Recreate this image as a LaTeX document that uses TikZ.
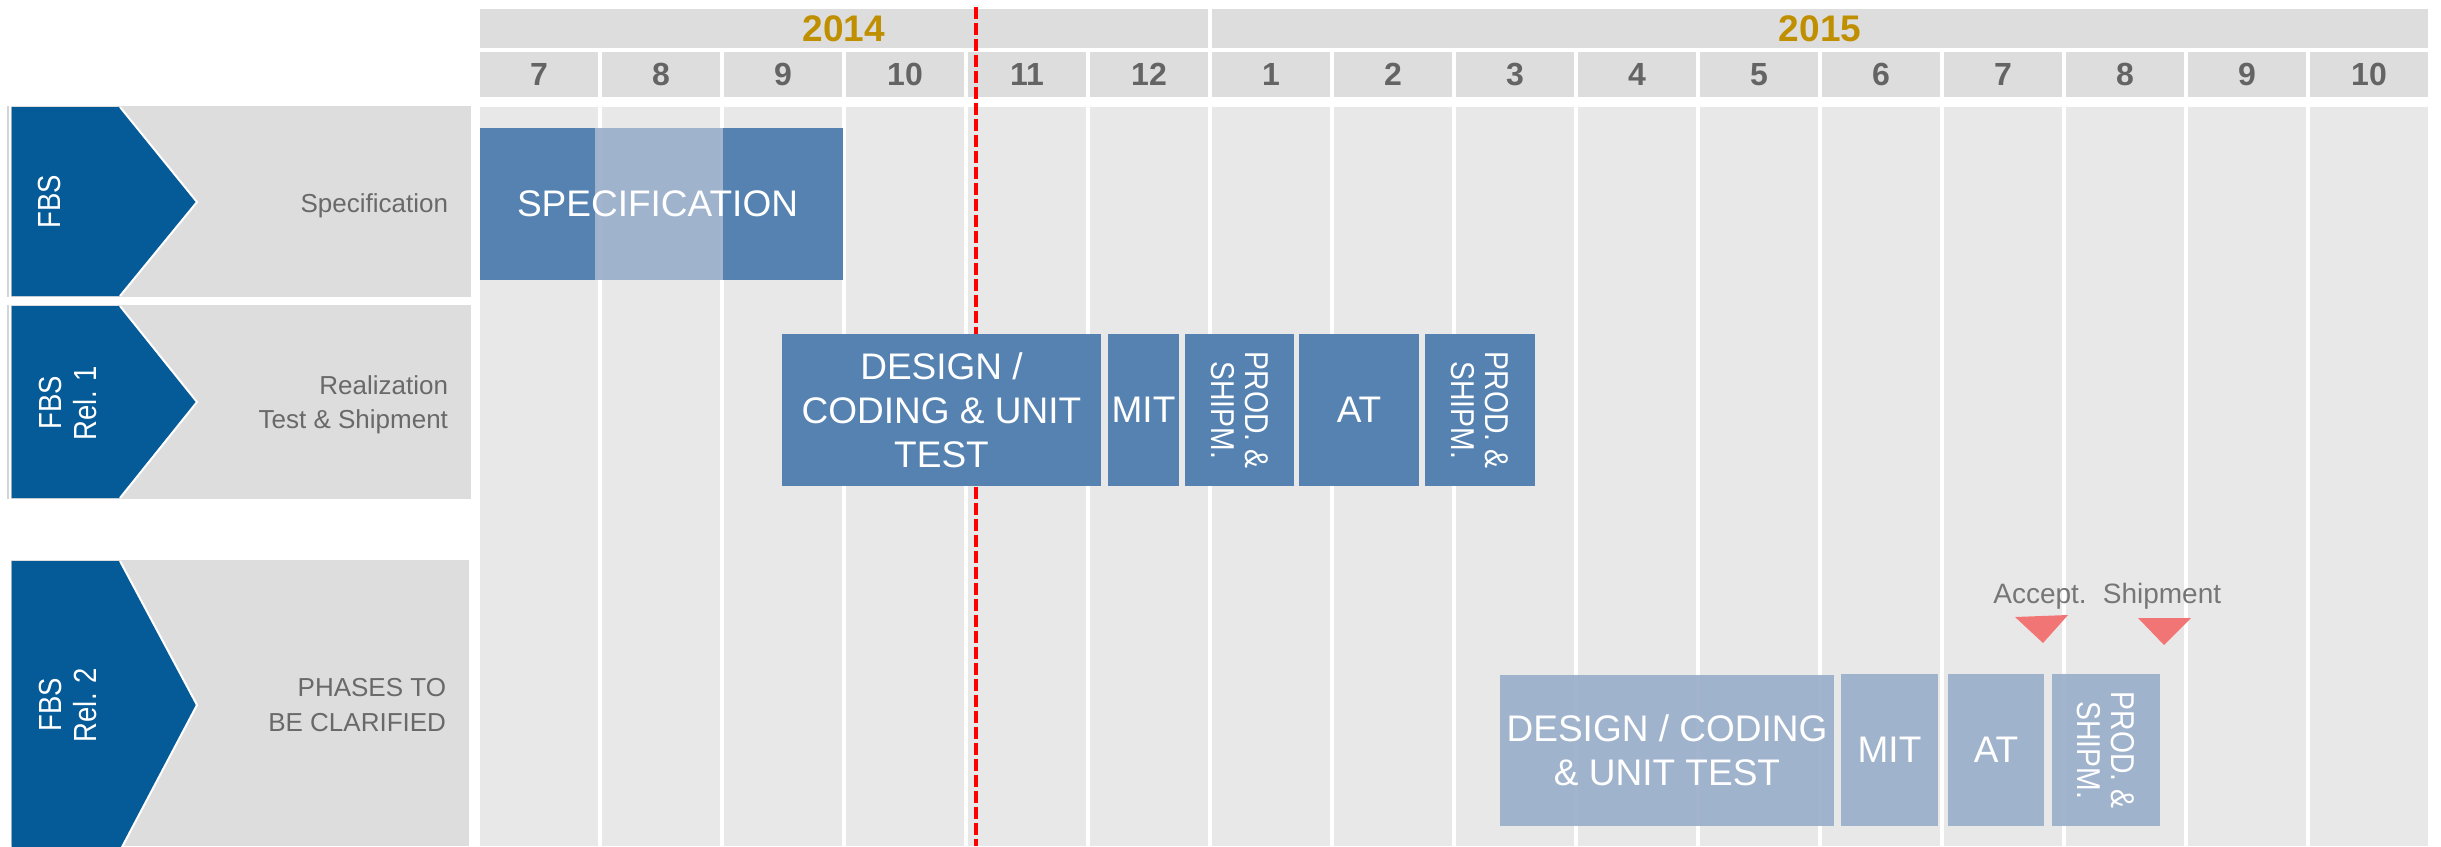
\documentclass[tikz,border=0pt]{standalone}
\usepackage{fontspec}
\setmainfont{Liberation Sans}
\newfontfamily\rotfont[FakeStretch=0.86]{Liberation Sans}
\definecolor{chevblue}{RGB}{5,90,152}
\definecolor{panelgrey}{RGB}{221,221,221}
\definecolor{colgrey}{RGB}{232,232,232}
\definecolor{hdrgrey}{RGB}{221,221,221}
\definecolor{yeargold}{RGB}{191,143,0}
\definecolor{monthgrey}{RGB}{100,100,100}
\definecolor{labelgrey}{RGB}{105,105,105}
\definecolor{bardark}{RGB}{85,130,176}
\definecolor{barlight}{RGB}{153,174,201}
\definecolor{msred}{RGB}{242,117,117}
\definecolor{msgrey}{RGB}{118,118,118}
\definecolor{panelline}{RGB}{212,212,212}
\begin{document}
\begin{tikzpicture}[x=1pt,y=-1pt,
  every node/.style={inner sep=0pt, outer sep=0pt},
  hdrcell/.style={fill=hdrgrey, anchor=north west, minimum height=45pt, minimum width=118pt, text=monthgrey, font=\fontsize{32}{38}\selectfont\bfseries},
  yearcell/.style={fill=hdrgrey, anchor=north west, minimum height=39pt, text=yeargold, font=\fontsize{37}{44}\selectfont\bfseries},
  darkbar/.style={fill=bardark, text=white, anchor=north west, align=center, font=\fontsize{37}{44}\selectfont},
  lightbar/.style={fill=barlight, fill opacity=0.9, text opacity=1, text=white, anchor=north west, align=center, font=\fontsize{37}{44.5}\selectfont},
  rotlabel/.style={rotate=-90, align=center, text=white, font=\rotfont\fontsize{33}{34}\selectfont},
  fbslabel/.style={rotate=90, align=center, text=white, font=\rotfont\fontsize{32}{35}\selectfont},
  rowlabel/.style={align=right, text=labelgrey, font=\fontsize{26}{34.5}\selectfont},
  mslabel/.style={anchor=base, text=msgrey, font=\fontsize{28}{34}\selectfont},
  chevron/.style={fill=chevblue},
  chevedge/.style={draw=white, line width=2pt},
  todayline/.style={draw=red, line width=4pt, dash pattern=on 12pt off 4pt}
]
\useasboundingbox (0,0) rectangle (2441,846);
\fill[white] (0,0) rectangle (2441,846);

% body columns and month header
\foreach \m [count=\i from 0] in {7,8,9,10,11,12,1,2,3,4,5,6,7,8,9,10} {
  \fill[colgrey] ({480+122*\i},107) rectangle ++(118,739);
  \node[hdrcell] (m\i) at ({480+122*\i},52) {\m};
}
% years
\node[yearcell, minimum width=728pt] (y2014) at (480,9) {2014};
\node[yearcell, minimum width=1216pt] (y2015) at (1212,9) {2015};

% today line
\coordinate (todaytop) at (976,7);
\coordinate (todaybot) at (976,846);
\draw[todayline] (todaytop) -- (todaybot);

% left panels
\fill[panelgrey] (11,106) rectangle (471,297);
\fill[panelgrey] (11,305) rectangle (471,499);
\fill[panelgrey] (11,560) rectangle (469,846);
\draw[panelline, line width=1.5pt] (8,106) -- (8,297);
\draw[panelline, line width=1.5pt] (8,305) -- (8,499);

\fill[chevron] (11.5,107) -- (120,107) -- (197,202) -- (120,296) -- (11.5,296) -- cycle;
\draw[chevedge] (120,107) -- (197,202) -- (120,296);
\fill[chevron] (11.5,306) -- (120,306) -- (197,402) -- (120,498) -- (11.5,498) -- cycle;
\draw[chevedge] (120,306) -- (197,402) -- (120,498);
\fill[chevron] (11.5,561) -- (120,561) -- (197,705) -- (121,849) -- (11.5,849) -- cycle;
\draw[chevedge] (120,561) -- (197,705) -- (121,849);

\node[fbslabel] (fbs1) at (49,202) {FBS};
\node[fbslabel] (fbs2) at (67.5,403) {FBS\\Rel. 1};
\node[fbslabel] (fbs3) at (67.5,705) {FBS\\Rel. 2};

\node[rowlabel, anchor=base east] (lab1) at (448,212) {Specification};
\node[rowlabel, anchor=east] (lab2) at (448,405) {Realization\\Test \& Shipment};
\node[rowlabel, anchor=east] (lab3) at (446,705) {PHASES TO\\BE CLARIFIED};

% row 1: specification
\fill[bardark] (480,128) rectangle (595,280);
\fill[bardark] (723,128) rectangle (843,280);
\fill[barlight, opacity=0.9] (595,128) rectangle (723,280);
\node[anchor=north west, minimum width=355pt, minimum height=152pt, text=white, font=\fontsize{37}{44}\selectfont] (spec) at (480,128) {SPECIFICATION};

% row 2: release 1
\node[darkbar, minimum width=319pt, minimum height=152pt] (design1) at (782,334) {DESIGN /\\CODING \& UNIT\\TEST};
\node[darkbar, minimum width=71pt, minimum height=152pt] (mit1) at (1108,334) {MIT};
\node[darkbar, minimum width=109pt, minimum height=152pt] (prod1) at (1185,334) {};
\node[rotlabel] (prod1t) at (prod1.center) {PROD. \&\\SHIPM.};
\node[darkbar, minimum width=120pt, minimum height=152pt] (at1) at (1299,334) {AT};
\node[darkbar, minimum width=110pt, minimum height=152pt] (prod2) at (1425,334) {};
\node[rotlabel] (prod2t) at (prod2.center) {PROD. \&\\SHIPM.};

% row 3: release 2
\node[lightbar, minimum width=334pt, minimum height=151pt] (design2) at (1500,675) {DESIGN / CODING\\\& UNIT TEST};
\node[lightbar, minimum width=97pt, minimum height=152pt] (mit2) at (1841,674) {MIT};
\node[lightbar, minimum width=96pt, minimum height=152pt] (at2) at (1948,674) {AT};
\node[lightbar, minimum width=108pt, minimum height=152pt] (prod3) at (2052,674) {};
\node[rotlabel] (prod3t) at (prod3.center) {PROD. \&\\SHIPM.};

% milestones
\fill[msred] (2015,617) -- (2068,615) -- (2043,643) -- cycle;
\fill[msred] (2138,618) -- (2191,618) -- (2164,645) -- cycle;
\node[mslabel] (acc) at (2040,603) {Accept.};
\node[mslabel] (ship) at (2162,603) {Shipment};
\end{tikzpicture}
\end{document}
